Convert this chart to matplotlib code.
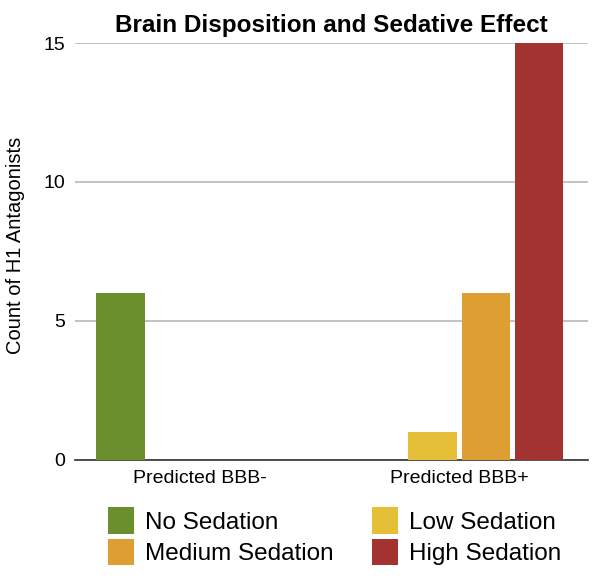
import matplotlib
matplotlib.use("Agg")
import matplotlib.pyplot as plt
import numpy as np

plt.rcParams['font.family'] = ['Liberation Sans', 'DejaVu Sans']

groups = ["Predicted BBB-", "Predicted BBB+"]
series = ["No Sedation", "Low Sedation", "Medium Sedation", "High Sedation"]
no_sed = [6, 0]
low_sed = [0, 1]
med_sed = [0, 6]
high_sed = [0, 15]
colors = ["#6b8f2c", "#e6bf38", "#de9e31", "#a23331"]

fig = plt.figure(figsize=(6.01, 5.78), dpi=100)
ax = fig.add_axes([0.1248, 0.2042, 0.8536, 0.7214])

x = np.arange(len(groups))
slot = 0.205
width = 0.186
bars = []
for i, (vals, c) in enumerate(zip([no_sed, low_sed, med_sed, high_sed], colors)):
    b = ax.bar(x + (i - 1.5) * slot, vals, width, color=c, label=series[i], zorder=3)
    bars.append(b)

ax.set_xlim(-0.483, 1.498)
ax.set_ylim(0, 15)
ax.set_yticks([0, 5, 10, 15])
ax.yaxis.grid(True, color="#b8b8b8", linewidth=1.2, zorder=0)
ax.set_xticks(x)
ax.set_xticklabels(groups)
ax.tick_params(axis="both", length=0, labelsize=14)
ax.tick_params(axis="y", pad=7)
ax.tick_params(axis="x", pad=7)
for s in ["top", "right", "left"]:
    ax.spines[s].set_visible(False)
ax.spines["bottom"].set_color("#333333")
ax.spines["bottom"].set_linewidth(1.2)
ax.set_ylabel("Count of H1 Antagonists", fontsize=14.5)
ax.yaxis.set_label_coords(-0.097, 0.515)
ax.set_title("Brain Disposition and Sedative Effect", fontsize=17.5, fontweight="bold", pad=8)

# column order: No / Medium, Low / High
order = [0, 2, 1, 3]
fig.legend([bars[i] for i in order], [series[i] for i in order],
           loc="upper left", bbox_to_anchor=(0.1797, 0.122), ncol=2,
           frameon=False, fontsize=17.5, handlelength=1.07, handleheight=1.3,
           handletextpad=0.45, columnspacing=1.6, labelspacing=0.2,
           borderaxespad=0, borderpad=0)

fig.savefig("out.png", dpi=100)
